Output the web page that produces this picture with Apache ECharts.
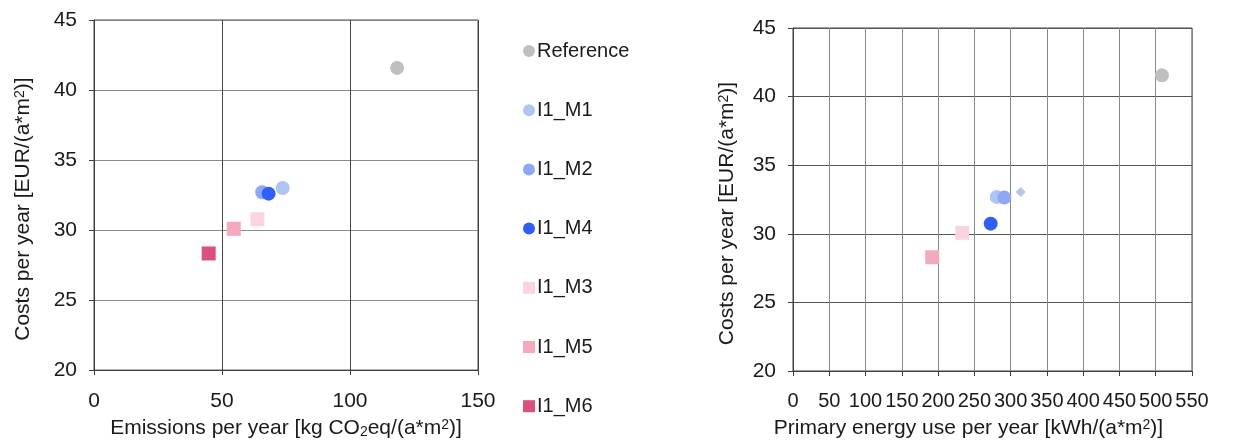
<!DOCTYPE html>
<html><head><meta charset="utf-8">
<script src="https://cdn.jsdelivr.net/npm/echarts@6/dist/echarts.min.js"></script>
<style>html,body{margin:0;padding:0;background:#fff}#c{width:1237px;height:445px}</style>
</head><body><div id="c"></div>
<script>
const seriesNames = ['Reference','I1_M1','I1_M2','I1_M4','I1_M3','I1_M5','I1_M6'];
const seriesColors = ['#bfbfbf','#aec4f2','#8ea8f6','#2f5ff6','#fad4de','#f2aabc','#dc5080'];
const seriesSymbols = ['circle','circle','circle','circle','rect','rect','rect'];
const emissions = [118.4, 73.7, 65.7, 68.2, 63.8, 54.6, 44.8];
const costsLeft = [41.58, 33.0, 32.7, 32.6, 30.77, 30.09, 28.33];
const primaryEnergy = [508.6, 280.8, 291.3, 272.5, 233.3, 191.9, null];
const costsRight = [41.55, 32.69, 32.64, 30.74, 30.07, 28.29, null];
const extraName = 'I1_M1 (diamond)';
const extraEnergy = [313.9];
const extraCost = [33.05];
const extraColor = '#aab8d8';

const FONT = 'Liberation Sans, Arial, sans-serif';
const chart = echarts.init(document.getElementById('c'));
const series = [];
seriesNames.forEach((n, i) => {
  const size = 14;
  series.push({
    name: n, type: 'scatter', xAxisIndex: 0, yAxisIndex: 0,
    symbol: seriesSymbols[i], symbolSize: size,
    itemStyle: { color: seriesColors[i], opacity: 1 },
    data: [[emissions[i], costsLeft[i]]]
  });
  if (primaryEnergy[i] !== null) {
    series.push({
      name: n, type: 'scatter', xAxisIndex: 1, yAxisIndex: 1,
      symbol: seriesSymbols[i], symbolSize: size,
      itemStyle: { color: seriesColors[i], opacity: 1 },
      data: [[primaryEnergy[i], costsRight[i]]]
    });
  }
});
series.push({
  name: extraName, type: 'scatter', xAxisIndex: 1, yAxisIndex: 1,
  symbol: 'diamond', symbolSize: 10,
  itemStyle: { color: extraColor },
  data: [[extraEnergy[0], extraCost[0]]]
});

const sup = { fontSize: 14, verticalAlign: 'top', lineHeight: 16, padding: [0,0,8,0], fontFamily: FONT, color: '#1a1a1a' };
const sub = { fontSize: 14, verticalAlign: 'bottom', lineHeight: 16, padding: [8,0,0,0], fontFamily: FONT, color: '#1a1a1a' };
function nameStyle(pad) {
  return { fontSize: 21, fontFamily: FONT, color: '#1a1a1a', padding: pad, rich: { sup, sub } };
}
const lbl = { fontSize: 21, fontFamily: FONT, color: '#1a1a1a' };

function yAx(idx, gap) {
  return {
    type: 'value', gridIndex: idx, min: 20, max: 45, interval: 5,
    name: 'Costs per year [EUR/(a*m{sup|2})]', nameLocation: 'middle', nameGap: gap,
    nameTextStyle: nameStyle([0, 28, 0, 0]),
    axisLine: { show: true, lineStyle: { color: '#404040', width: 1 } },
    axisTick: { show: true, length: 5, lineStyle: { color: '#404040' } },
    axisLabel: Object.assign({ margin: 17 }, lbl),
    splitLine: { show: true, lineStyle: { color: idx === 0 ? '#8a8a8a' : '#555', width: 1 } }
  };
}

chart.setOption({
  animation: false,
  backgroundColor: '#fff',
  grid: [
    { left: 94, right: 759, top: 20, bottom: 69, show: true, borderColor: '#404040', borderWidth: 1, backgroundColor: 'transparent' },
    { left: 793, right: 45, top: 28, bottom: 67, show: true, borderColor: '#404040', borderWidth: 1, backgroundColor: 'transparent' }
  ],
  legend: {
    data: seriesNames.map((n, i) => ({ name: n, icon: seriesSymbols[i] === 'circle' ? 'circle' : 'rect' })),
    orient: 'vertical', left: 518, top: 35, itemWidth: 12, itemHeight: 12, itemGap: 37.2,
    textStyle: { fontSize: 20, fontFamily: FONT, color: '#1a1a1a', padding: [0,0,0,-3], lineHeight: 22 }
  },
  xAxis: [
    {
      type: 'value', gridIndex: 0, min: 0, max: 150, interval: 50,
      name: 'Emissions per year [kg CO{sub|2}eq/(a*m{sup|2})]', nameLocation: 'middle', nameGap: 45,
      nameTextStyle: nameStyle([0, 0, 0, 0]),
      axisLine: { show: true, lineStyle: { color: '#404040' } },
      axisTick: { show: true, length: 5, lineStyle: { color: '#404040' } },
      axisLabel: Object.assign({ margin: 21 }, lbl),
      splitLine: { show: true, lineStyle: { color: '#444', width: 1 } }
    },
    {
      type: 'value', gridIndex: 1, min: 0, max: 550, interval: 50,
      name: 'Primary energy use per year [kWh/(a*m{sup|2})]', nameLocation: 'middle', nameGap: 47,
      nameTextStyle: nameStyle([0, 48, 0, 0]),
      axisLine: { show: true, lineStyle: { color: '#404040' } },
      axisTick: { show: true, length: 5, lineStyle: { color: '#404040' } },
      axisLabel: Object.assign({ margin: 20 }, lbl, { fontSize: 20 }),
      splitLine: { show: true, lineStyle: { color: '#8a8a8a', width: 1 } }
    }
  ],
  yAxis: [yAx(0, 60), yAx(1, 55)],
  series
});
</script></body></html>
